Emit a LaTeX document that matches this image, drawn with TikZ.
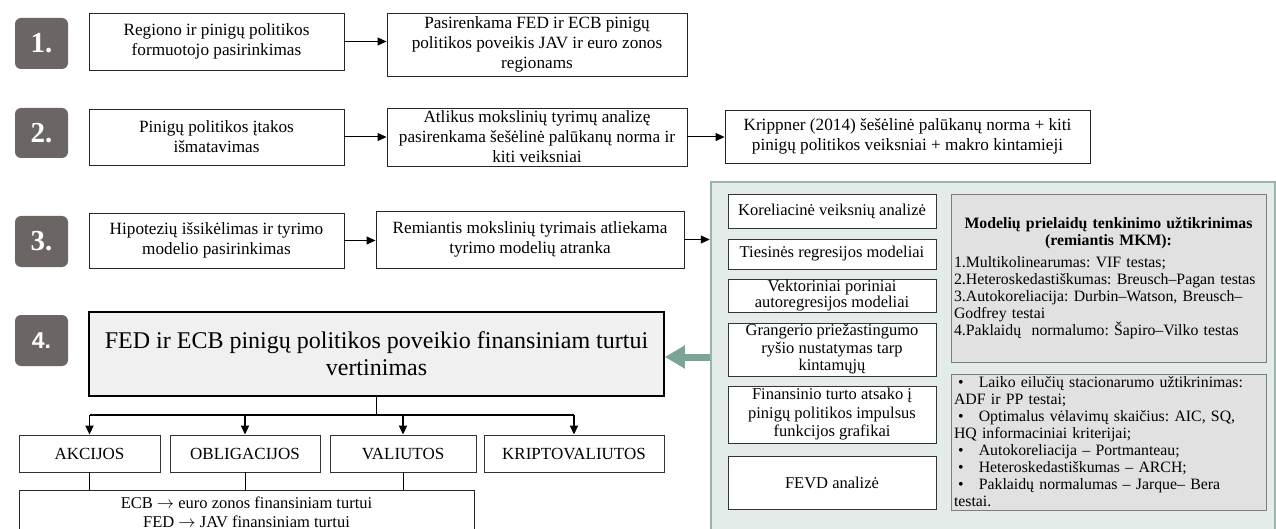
\documentclass[tikz,border=0pt]{standalone}
\usepackage{fontspec}
\setmainfont{Liberation Serif}
\newfontfamily\arialfont{Liberation Sans}
\usetikzlibrary{arrows.meta}
\definecolor{badgegray}{HTML}{6B6664}
\definecolor{panelfill}{HTML}{E4ECE9}
\definecolor{paneldraw}{HTML}{97B6AB}
\definecolor{bigarrowc}{HTML}{7AA596}
\definecolor{grayfill}{HTML}{E1E1E1}
\definecolor{graydraw}{HTML}{7D7D7D}
\definecolor{boxfill4}{HTML}{F0F0F0}
\newcommand\bul{\hspace*{4pt}•\hspace*{10pt}}
\newcommand\rarr{\ensuremath{\rightarrow}}
\frenchspacing
\begin{document}
\begin{tikzpicture}[x=1pt,y=-1pt,
  box/.style={draw=black!85, line width=0.9pt, fill=white, align=center, inner sep=0pt,
    font=\fontsize{17.2}{20}\selectfont},
  bigbox/.style={draw=black, line width=1.8pt, fill=boxfill4, align=center, inner sep=0pt,
    font=\fontsize{24}{27}\selectfont},
  catbox/.style={draw=black!80, line width=0.9pt, fill=white, align=center, inner sep=0pt,
    minimum height=37pt, font=\fontsize{17}{20}\selectfont},
  pbox/.style={draw=black!80, line width=0.9pt, fill=white, align=center, inner sep=0pt,
    minimum width=208pt, font=\fontsize{16.5}{18.5}\selectfont},
  graybox/.style={draw=graydraw, line width=0.9pt, fill=grayfill, inner sep=0pt,
    minimum width=315pt, text width=309pt, align=left, font=\fontsize{15.8}{17}\selectfont},
  panelbox/.style={draw=paneldraw, line width=2.5pt, fill=panelfill, inner sep=0pt},
  badge/.style={fill=badgegray, rounded corners=6pt, minimum width=53pt, text=white,
    inner sep=0pt, font=\fontsize{29}{29}\selectfont\bfseries},
  conn/.style={line width=1pt, -{Triangle[length=9pt,width=8pt]}},
  thickline/.style={line width=1.8pt},
  brarrow/.style={line width=1.8pt, -{Triangle[length=9pt,width=8pt]}},
  bigarr/.style={draw=bigarrowc, line width=7pt, -{Triangle[length=20pt,width=22pt]}}
]
\useasboundingbox (0,0) rectangle (1276,529);
\clip (0,0) rectangle (1276,529);

% badges
\node[badge, minimum height=51pt] (b1) at (41.5,43.5) {1.};
\node[badge, minimum height=50pt] (b2) at (41.5,133) {2.};
\node[badge, minimum height=51pt] (b3) at (41.5,241.5) {3.};
\node[badge, minimum height=51pt, font=\arialfont\bfseries\fontsize{23}{23}\selectfont] (b4) at (41.5,340.5) {4.};

% row 1
\node[box, minimum width=255pt, minimum height=57pt] (r1a) at (216.5,41.5)
  {Regiono ir pinigų politikos\\formuotojo pasirinkimas};
\node[box, minimum width=300pt, minimum height=63pt] (r1b) at (537,44.5)
  {Pasirenkama FED ir ECB pinigų\\politikos poveikis JAV ir euro zonos\\regionams};
\draw[conn] (r1a.east) -- (r1a.east -| r1b.west);

% row 2
\node[box, minimum width=255pt, minimum height=56pt] (r2a) at (216.5,137)
  {Pinigų politikos įtakos\\išmatavimas};
\node[box, minimum width=300pt, minimum height=58pt] (r2b) at (537,137)
  {Atlikus mokslinių tyrimų analizę\\pasirenkama šešėlinė palūkanų norma ir\\kiti veiksniai};
\node[box, minimum width=365pt, minimum height=53pt] (r2c) at (907.5,136.5)
  {Krippner (2014) šešėlinė palūkanų norma + kiti\\pinigų politikos veiksniai + makro kintamieji};
\draw[conn] (r2a.east) -- (r2a.east -| r2b.west);
\draw[conn] (r2b.east) -- (r2b.east -| r2c.west);

% panel
\node[panelbox, minimum width=564pt, minimum height=358pt] (panel) at (993,361) {};

% row 3
\node[box, minimum width=255pt, minimum height=55pt] (r3a) at (216.5,240.5)
  {Hipotezių išsikėlimas ir tyrimo\\modelio pasirinkimas};
\node[box, minimum width=308pt, minimum height=57pt] (r3b) at (530,239.5)
  {Remiantis mokslinių tyrimais atliekama\\tyrimo modelių atranka};
\draw[conn] (r3a.east) -- (r3a.east -| r3b.west);
\draw[conn] (r3b.east) -- (r3b.east -| panel.west);

% panel left column
\node[pbox, minimum height=34pt] (p1) at (832,211) {Koreliacinė veiksnių analizė};
\node[pbox, minimum height=30pt] (p2) at (832,254) {Tiesinės regresijos modeliai};
\node[pbox, minimum height=33pt, font=\fontsize{16.5}{16}\selectfont] (p3) at (832,296) {Vektoriniai poriniai\\autoregresijos modeliai};
\node[pbox, minimum height=53pt, font=\fontsize{16.5}{17.5}\selectfont] (p4) at (832,349.5) {Grangerio priežastingumo\\ryšio nustatymas tarp\\kintamųjų};
\node[pbox, minimum height=57pt] (p5) at (832,414.5) {Finansinio turto atsako į\\pinigų politikos impulsus\\funkcijos grafikai};
\node[pbox, minimum height=53pt] (p6) at (832,482.5) {FEVD analizė};

% panel right column
\node[graybox, minimum height=168pt] (g1) at (1108.5,278) {%
\makebox[\linewidth][c]{\bfseries Modelių prielaidų tenkinimo užtikrinimas}\\
\makebox[\linewidth][c]{\bfseries (remiantis MKM):}\\[5pt]
1.Multikolinearumas: VIF testas;\\
2.Heteroskedastiškumas: Breusch–Pagan testas\\
\makebox[\linewidth][s]{3.Autokoreliacija: Durbin–Watson, Breusch–}\\
Godfrey testai\\
4.Paklaidų\ \ normalumo: Šapiro–Vilko testas};
\node[graybox, minimum height=136pt] (g2) at (1108.5,442) {%
\makebox[\linewidth][s]{\bul{} Laiko eilučių stacionarumo užtikrinimas:}\\
ADF ir PP testai;\\
\makebox[\linewidth][s]{\bul{} Optimalus vėlavimų skaičius: AIC, SQ,}\\
HQ informaciniai kriterijai;\\
\bul{} Autokoreliacija – Portmanteau;\\
\bul{} Heteroskedastiškumas – ARCH;\\
\makebox[\linewidth][s]{\bul{} Paklaidų normalumas – Jarque– Bera}\\
testai.};

% step 4
\node[bigbox, minimum width=575pt, minimum height=84pt] (box4) at (376.5,354)
  {FED ir ECB pinigų politikos poveikio finansiniam turtui\\vertinimas};
\coordinate (ay) at (0,357);
\draw[bigarr] (panel.west |- ay) -- (box4.east |- ay);

% categories
\node[catbox, minimum width=141pt] (ca) at (89.5,453.5) {AKCIJOS};
\node[catbox, minimum width=150pt] (co) at (245,453.5) {OBLIGACIJOS};
\node[catbox, minimum width=146pt] (cv) at (403,453.5) {VALIUTOS};
\node[catbox, minimum width=180pt] (ck) at (574,453.5) {KRIPTOVALIUTOS};

\coordinate (br) at (376.5,415);
\draw[thickline] (box4.south) -- (box4.south |- br);
\draw[thickline] (ca.north |- br) -- (ck.north |- br);
\foreach \n in {ca,co,cv,ck} \draw[brarrow] (\n.north |- br) -- (\n.north);

\node[box, font=\fontsize{16.5}{19}\selectfont, minimum width=455pt, minimum height=44pt] (ecb) at (246.5,512)
  {ECB \rarr{} euro zonos finansiniam turtui\\FED \rarr{} JAV finansiniam turtui};
\foreach \n in {ca,co,cv} \draw[line width=1pt] (\n.south) -- (\n.south |- ecb.north);
\end{tikzpicture}
\end{document}
